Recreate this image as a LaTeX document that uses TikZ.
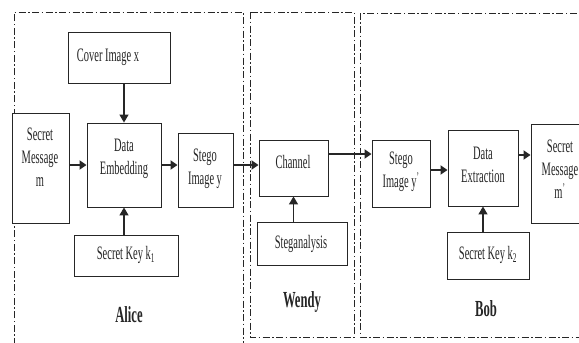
\documentclass[tikz,border=0pt]{standalone}
\usepackage{fontspec}
\setmainfont[FakeStretch=0.55]{Liberation Serif}
\usetikzlibrary{arrows.meta,calc}
\begin{document}
\begin{tikzpicture}[x=1pt,y=-1pt,
  box/.style={draw=black!85,line width=0.9pt,fill=white,inner sep=0pt,rectangle},
  txt/.style={font=\fontsize{19}{23}\selectfont,align=center,inner sep=0pt,text=black!85},
  who/.style={font=\fontsize{23}{26}\selectfont\bfseries,inner sep=0pt,text=black!85},
  frame/.style={draw=black!85,line width=1pt,dash pattern=on 7pt off 2.5pt on 1.5pt off 2.5pt},
  harr/.style={draw=black!85,line width=2pt,-{Triangle[length=7pt,width=9pt]}},
  varr/.style={draw=black!85,line width=1.3pt,-{Triangle[length=8pt,width=9pt]}}]
\useasboundingbox (0,0) rectangle (579,343);
\clip (0,0) rectangle (579,343);
\fill[white] (0,0) rectangle (579,343);
% group frames
\draw[frame] (14,345) -- (14,12) -- (243,12) -- (243,345);
\draw[frame] (250,12) rectangle (354,337);
\draw[frame] (590,13) -- (360,13) -- (360,337) -- (590,337);
% boxes
\node[box,minimum width=102,minimum height=51] (cov) at (119,57.5) {};
\node[box,minimum width=57,minimum height=110] (sm) at (40.5,168) {};
\node[box,minimum width=74,minimum height=84] (de) at (124,165) {};
\node[box,minimum width=55,minimum height=74] (sy) at (205.5,170) {};
\node[box,minimum width=104,minimum height=41] (k1) at (126,255.5) {};
\node[box,minimum width=69,minimum height=56] (ch) at (293.5,168) {};
\node[box,minimum width=90,minimum height=43] (st) at (302,243.5) {};
\node[box,minimum width=58,minimum height=67] (sy2) at (401,173.5) {};
\node[box,minimum width=70,minimum height=76] (dx) at (483,168) {};
\node[box,minimum width=60,minimum height=99] (sm2) at (561,173.5) {};
\node[box,minimum width=82,minimum height=47] (k2) at (488,255.5) {};
% texts
\node[txt] (tcov) at (108,57) {Cover Image x};
\node[txt] (tsm) at (40,157) {Secret\\Message\\m};
\node[txt] (tde) at (124,159) {Data\\Embedding};
\node[txt] (tsy) at (205,169) {Stego\\Image y};
\node[txt] (tk1) at (126,255) {Secret Key k\textsubscript{1}};
\node[txt] (tch) at (293,162) {Channel};
\node[txt] (tst) at (301,244) {Steganalysis};
\node[txt] (tsy2) at (401,172) {Stego\\Image y\textsuperscript{’}};
\node[txt] (tdx) at (483,165) {Data\\Extraction};
\node[txt] (tsm2) at (560,169) {Secret\\Message\\m\textsuperscript{’}};
\node[txt] (tk2) at (488,255) {Secret Key k\textsubscript{2}};
\node[who] (alice) at (129,315) {Alice};
\node[who] (wendy) at (302,302) {Wendy};
\node[who] (bob) at (486,309) {Bob};
% arrow rows
\coordinate (r1) at (0,154);
\coordinate (r2) at (0,170);
\coordinate (r3) at (0,155);
\draw[harr] (de.west -| sm.east) -- (de.west);
\draw[harr] (de.east) -- (de.east -| sy.west);
\draw[harr] (sy.east |- de.east) -- (ch.west |- de.east);
\draw[harr] (ch.east |- r1) -- (sy2.west |- r1);
\draw[harr] (sy2.east |- r2) -- (dx.west |- r2);
\draw[harr] (dx.east |- r3) -- (sm2.west |- r3);
\draw[varr] (cov.south -| de.north) -- (de.north);
\draw[varr] (k1.north -| de.south) -- (de.south);
\draw[varr] (st.north -| ch.south) -- (ch.south);
\draw[varr] (k2.north -| dx.south) -- (dx.south);
\end{tikzpicture}
\end{document}
